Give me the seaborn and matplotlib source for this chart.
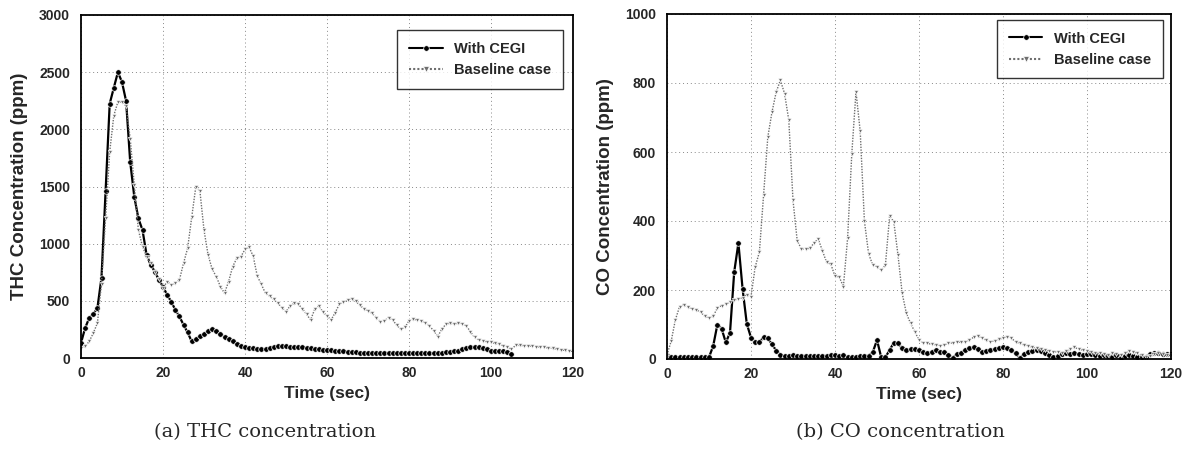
import numpy as np
import pandas as pd
import matplotlib
matplotlib.use("Agg")
import matplotlib.pyplot as plt
import seaborn as sns

# ---------------- data ----------------
thc_time_cegi = list(range(0, 106))
thc_cegi = [131, 262, 349, 384, 436, 703, 1459, 2224, 2363, 2500, 2413, 2247, 1715, 1410, 1221, 1119,
            901, 814, 756, 683, 625, 552, 494, 421, 363, 291, 224, 145, 165, 190, 210, 235, 253, 235,
            210, 185, 165, 145, 125, 108, 95, 90, 85, 78, 75, 80, 90, 100, 105, 105, 103, 100, 98, 95,
            92, 90, 85, 80, 76, 72, 70, 66, 62, 60, 58, 55, 52, 50, 48, 48, 48, 47, 47, 46, 46, 46,
            45, 45, 44, 44, 43, 42, 41, 40, 40, 40, 41, 42, 45, 50, 55, 60, 65, 75, 88, 96, 99, 95,
            87, 75, 64, 62, 64, 58, 49, 35]

thc_time_base = list(range(0, 121))
thc_base = [87, 102, 145, 218, 305, 650, 1221, 1802, 2120, 2240, 2240, 2200, 1919, 1512, 1119, 974,
            887, 828, 756, 690, 610, 669, 640, 654, 683, 828, 959, 1230, 1497, 1462, 1119, 901, 776,
            712, 625, 567, 669, 800, 872, 887, 950, 970, 890, 716, 643, 565, 542, 513, 478, 441, 406,
            455, 478, 470, 432, 383, 333, 426, 455, 403, 368, 333, 397, 470, 490, 504, 519, 499, 461,
            432, 412, 391, 354, 316, 325, 354, 333, 287, 252, 267, 325, 339, 333, 325, 310, 281, 238,
            188, 252, 296, 304, 296, 304, 301, 281, 229, 180, 159, 151, 142, 136, 128, 119, 107, 93,
            78, 110, 110, 108, 106, 104, 100, 96, 92, 88, 84, 78, 72, 66, 62, 58]

co_time = list(range(0, 121))
co_cegi = [12, 5, 5, 5, 5, 5, 5, 5, 5, 5, 5, 38, 100, 88, 48, 76, 252, 336, 203, 102, 62, 48, 48, 64,
           60, 43, 24, 12, 8, 10, 12, 10, 9, 10, 8, 10, 10, 9, 10, 12, 12, 10, 12, 5, 5, 5, 8, 10,
           10, 20, 55, 5, 5, 26, 47, 45, 31, 26, 28, 28, 26, 21, 18, 21, 26, 21, 21, 12, 4, 14, 18,
           26, 31, 36, 28, 21, 24, 26, 28, 31, 36, 31, 26, 16, 3, 14, 21, 24, 26, 23, 16, 12, 5, 9,
           14, 16, 14, 16, 14, 12, 14, 14, 12, 9, 12, 9, 7, 12, 3, 9, 12, 9, 7, 5, 7, 14, 16, 16, 14,
           14, 14]
co_base = [12, 52, 114, 152, 157, 150, 146, 142, 136, 124, 119, 124, 148, 155, 159, 165, 171, 174,
           178, 186, 181, 267, 310, 476, 643, 716, 774, 808, 769, 692, 460, 343, 319, 319, 321, 336,
           348, 314, 280, 275, 240, 238, 210, 350, 595, 775, 660, 400, 305, 272, 268, 258, 272, 414,
           398, 301, 190, 132, 103, 79, 55, 47, 45, 43, 41, 39, 41, 45, 47, 49, 49, 50, 55, 63, 68,
           60, 55, 50, 53, 57, 60, 65, 60, 50, 45, 41, 38, 34, 31, 28, 26, 23, 21, 21, 18, 23, 28,
           34, 28, 26, 23, 21, 18, 16, 14, 12, 16, 14, 12, 18, 23, 21, 16, 12, 7, 9, 14, 16, 14, 12, 12]

series_names = ["With CEGI", "Baseline case"]
x_ticks = [0, 20, 40, 60, 80, 100, 120]
thc_yticks = [0, 500, 1000, 1500, 2000, 2500, 3000]
co_yticks = [0, 200, 400, 600, 800, 1000]

# ---------------- style ----------------
sns.set_style("white")
plt.rcParams["font.family"] = ["Liberation Sans", "DejaVu Sans"]

W, H = 1193, 457
fig = plt.figure(figsize=(W / 100, H / 100), dpi=100)
ax1 = fig.add_axes([81 / W, 1 - 358 / H, 492 / W, 343 / H])
ax2 = fig.add_axes([667 / W, 1 - 359 / H, 504 / W, 345 / H])

thc_df = pd.concat([
    pd.DataFrame({"t": thc_time_cegi, "v": thc_cegi, "s": series_names[0]}),
    pd.DataFrame({"t": thc_time_base, "v": thc_base, "s": series_names[1]}),
])
co_df = pd.concat([
    pd.DataFrame({"t": co_time, "v": co_cegi, "s": series_names[0]}),
    pd.DataFrame({"t": co_time, "v": co_base, "s": series_names[1]}),
])

palette = {series_names[0]: "#000000", series_names[1]: "#6e6e6e"}
markers = {series_names[0]: "o", series_names[1]: "v"}
dashes = {series_names[0]: "", series_names[1]: (1, 1)}


def draw(ax, df, ylim, yticks, ylabel, caption, cap_x, leg_anchor):
    sns.lineplot(data=df, x="t", y="v", hue="s", style="s", palette=palette,
                 markers=markers, dashes=dashes, ax=ax, estimator=None, sort=False,
                 markersize=4, markeredgewidth=0.5)
    lines = ax.get_lines()
    if len(lines) >= 2:
        lines[0].set_linewidth(1.6)
        lines[1].set_linewidth(1.0)
        lines[1].set_markersize(3)
    ax.set_xlim(0, 120)
    ax.set_ylim(*ylim)
    ax.set_xticks(x_ticks)
    ax.set_yticks(yticks)
    ax.set_xticklabels([str(v) for v in x_ticks], fontweight="bold", fontsize=10)
    ax.set_yticklabels([str(v) for v in yticks], fontweight="bold", fontsize=10)
    ax.set_xlabel("Time (sec)", fontweight="bold", fontsize=12.5, labelpad=4)
    ax.set_ylabel(ylabel, fontweight="bold", fontsize=13.5, labelpad=8)
    ax.grid(True, linestyle=(0, (1, 3)), color="#888888", linewidth=0.7)
    for sp in ax.spines.values():
        sp.set_visible(True)
        sp.set_color("black")
        sp.set_linewidth(1.3)
    ax.tick_params(axis="x", direction="in", length=3, width=0.8, pad=6)
    ax.tick_params(axis="y", direction="in", length=3, width=0.8, pad=8)
    leg = ax.legend(loc="upper right", frameon=True, fancybox=False,
                    handlelength=2.3, handletextpad=0.8, borderpad=0.8, labelspacing=0.5,
                    borderaxespad=0, bbox_to_anchor=leg_anchor,
                    prop={"weight": "bold", "size": 10.5})
    leg.get_frame().set_edgecolor("black")
    leg.get_frame().set_linewidth(1.0)
    fig.text(cap_x / W, 1 - 432 / H, caption, ha="center", va="center",
             fontsize=14, family=["DejaVu Serif"])


draw(ax1, thc_df, (0, 3000), thc_yticks, "THC Concentration (ppm)", "(a) THC concentration",
     265, (0.98, 0.956))
draw(ax2, co_df, (0, 1000), co_yticks, "CO Concentration (ppm)", "(b) CO concentration",
     900, (0.984, 0.983))

fig.savefig("out.png", dpi=100)
